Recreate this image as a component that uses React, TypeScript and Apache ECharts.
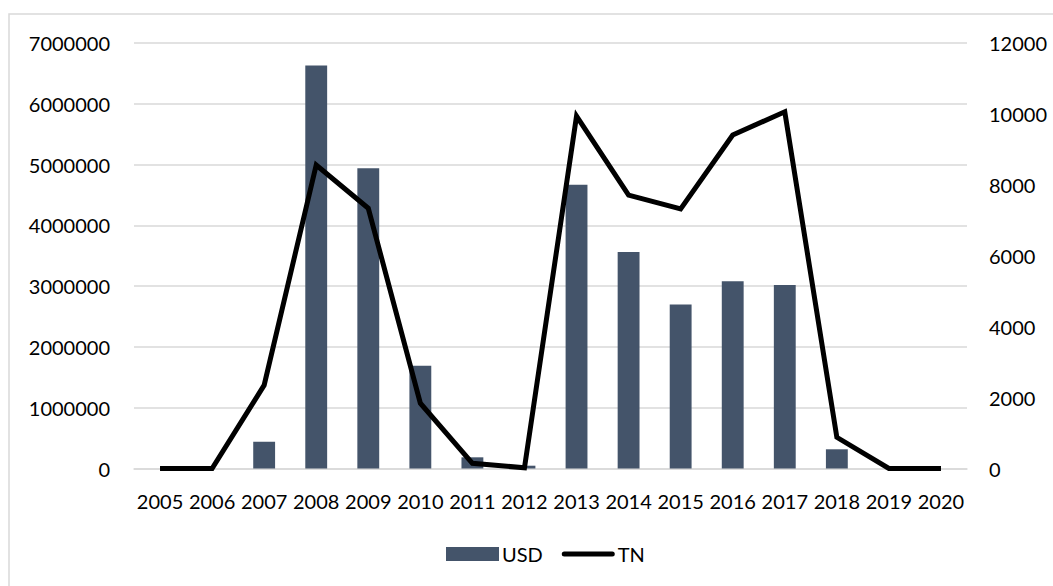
import React, { useEffect, useRef } from "react";
import * as echarts from "echarts";

const years = ["2005","2006","2007","2008","2009","2010","2011","2012","2013","2014","2015","2016","2017","2018","2019","2020"];
const usd = [0, 0, 440000, 6630000, 4940000, 1690000, 184000, 46000, 4670000, 3560000, 2700000, 3080000, 3020000, 316000, 0, 0];
const tn = [0, 0, 2350, 8560, 7340, 1840, 147, 20, 9940, 7710, 7320, 9405, 10060, 880, 0, 0];

export default function App() {
  const ref = useRef<HTMLDivElement>(null);
  useEffect(() => {
    document.body.style.margin = "0";
    const chart = echarts.init(ref.current!, null, { renderer: "svg" });
    const font = "Lato, 'Open Sans', sans-serif";
    const plain = (v: number) => String(v);
    chart.setOption({
      animation: false,
      backgroundColor: "#ffffff",
      textStyle: { fontFamily: font },
      graphic: [
        {
          type: "rect",
          shape: { x: 9, y: 14, width: 1070, height: 600 },
          style: { fill: "none", stroke: "#d9d9d9", lineWidth: 1.5 },
          silent: true,
        },
      ],
      grid: { left: 134, right: 86, top: 43, bottom: 117.5 },
      legend: {
        bottom: 17,
        left: 441,
        itemWidth: 53,
        itemHeight: 14,
        itemGap: 19,
        textStyle: { fontSize: 20, color: "#000", fontFamily: font, padding: [0, 0, 0, -2] },
        data: [
          { name: "USD", icon: "rect" },
          {
            name: "TN",
            icon: "path://M2.5,0 L50.5,0 A2.5,2.5 0 0 1 50.5,5 L2.5,5 A2.5,2.5 0 0 1 2.5,0 Z",
          },
        ],
      },
      xAxis: {
        type: "category",
        data: years,
        axisLine: { lineStyle: { color: "#d9d9d9", width: 1.5 } },
        axisTick: { show: false },
        axisLabel: { fontSize: 20, color: "#000", margin: 22, fontFamily: font, interval: 0 },
      },
      yAxis: [
        {
          type: "value",
          min: 0,
          max: 7000000,
          interval: 1000000,
          axisLine: { show: false },
          axisTick: { show: false },
          splitLine: { lineStyle: { color: "#d9d9d9", width: 1.5 } },
          axisLabel: { fontSize: 20, color: "#000", margin: 24, fontFamily: font, formatter: plain },
        },
        {
          type: "value",
          min: 0,
          max: 12000,
          interval: 2000,
          axisLine: { show: false },
          axisTick: { show: false },
          splitLine: { show: false },
          axisLabel: { fontSize: 20, color: "#000", margin: 22, fontFamily: font, formatter: plain },
        },
      ],
      series: [
        {
          name: "USD",
          type: "bar",
          data: usd,
          barWidth: "42%",
          itemStyle: { color: "#44546a" },
          yAxisIndex: 0,
        },
        {
          name: "TN",
          type: "line",
          data: tn,
          yAxisIndex: 1,
          symbol: "none",
          lineStyle: { color: "#000", width: 5, join: "miter" },
          itemStyle: { color: "#000" },
        },
      ],
    });
    return () => chart.dispose();
  }, []);
  return <div ref={ref} style={{ width: 1053, height: 586 }} />;
}
